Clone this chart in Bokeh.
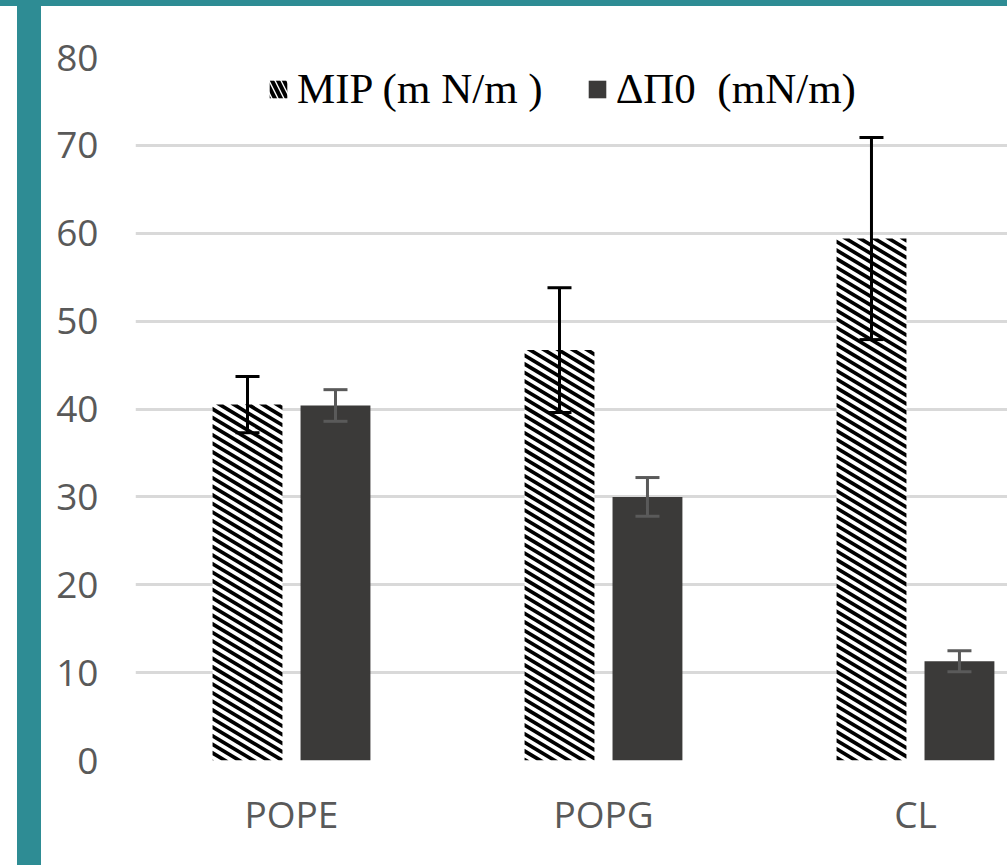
import math
from bokeh.plotting import figure
from bokeh.models import (Range1d, FixedTicker, ColumnDataSource, Whisker, TeeHead,
                          Legend, LegendItem)
from bokeh.embed import file_html
from bokeh.resources import INLINE

categories = ["POPE", "POPG", "CL"]
mip = [40.5, 46.7, 59.4]
mip_err = [3.2, 7.1, 11.5]
dpi0 = [40.4, 30.0, 11.3]
dpi0_err = [1.8, 2.2, 1.2]
y_ticks = [0, 10, 20, 30, 40, 50, 60, 70, 80]
series_labels = ["MIP (m N/m )", "\u0394\u03a00  (mN/m)"]

centers = [i + 0.5 for i in range(len(categories))]
offset = 0.141
bar_w = 0.224

W, H = 1007, 865
BL, BR, BT, BB = 135, 0, 57, 105
X_END, Y_END = 2.795, 80
XS = (W - BL - BR) / X_END          # px per x unit
YS = (H - BT - BB) / Y_END          # px per y unit

mip_x = [c - offset for c in centers]
dpi_x = [c + offset for c in centers]

src_mip = ColumnDataSource(dict(
    x=mip_x, top=mip,
    upper=[v + e for v, e in zip(mip, mip_err)],
    lower=[v - e for v, e in zip(mip, mip_err)]))
src_dpi = ColumnDataSource(dict(
    x=dpi_x, top=dpi0,
    upper=[v + e for v, e in zip(dpi0, dpi0_err)],
    lower=[v - e for v, e in zip(dpi0, dpi0_err)]))


# --- diagonal stripe fill for the MIP bars (computed from the bar geometry) ---
def _inter(a, b, lim):
    t = (lim - a[1]) / (b[1] - a[1])
    return (a[0] + t * (b[0] - a[0]), lim)


def _clip(poly, lim, keep_above):
    out = []
    for i in range(len(poly)):
        c, pr = poly[i], poly[i - 1]
        c_in = c[1] >= lim if keep_above else c[1] <= lim
        p_in = pr[1] >= lim if keep_above else pr[1] <= lim
        if c_in:
            if not p_in:
                out.append(_inter(pr, c, lim))
            out.append(c)
        elif p_in:
            out.append(_inter(pr, c, lim))
    return out


def stripe_polys(xc, top, width, slope=0.6, period=8.6):
    thick = period / 2
    u0, u1 = (xc - width / 2) * XS, (xc + width / 2) * XS
    vt = top * YS
    xs_out, ys_out = [], []
    k0 = math.floor((slope * u0 - thick) / period) - 1
    k1 = math.ceil((vt + slope * u1) / period) + 1
    for k in range(k0, k1 + 1):
        b = k * period
        poly = [(u0, -slope * u0 + b), (u1, -slope * u1 + b),
                (u1, -slope * u1 + b + thick), (u0, -slope * u0 + b + thick)]
        poly = _clip(poly, 0.0, True)
        if len(poly) >= 3:
            poly = _clip(poly, vt, False)
        if len(poly) >= 3:
            xs_out.append([q[0] / XS for q in poly])
            ys_out.append([q[1] / YS for q in poly])
    return xs_out, ys_out


stripe_xs, stripe_ys = [], []
for xc, top in zip(mip_x, mip):
    sx, sy = stripe_polys(xc, top, bar_w)
    stripe_xs += sx
    stripe_ys += sy

teal = "#2e8c94"
p = figure(width=W, height=H, output_backend="svg", toolbar_location=None,
           x_range=Range1d(0, X_END), y_range=Range1d(0, Y_END),
           min_border_left=BL, min_border_right=BR, min_border_top=BT, min_border_bottom=BB,
           background_fill_color="white", border_fill_alpha=0)
p.styles = {
    "background-color": "white",
    "background-image": f"linear-gradient({teal}, {teal}), linear-gradient({teal}, {teal})",
    "background-size": "100% 6px, 24px 100%",
    "background-position": "0 0, 17px 0",
    "background-repeat": "no-repeat",
}
p.outline_line_color = None

p.vbar(x="x", top="top", width=bar_w, source=src_mip, fill_color="white", line_color=None)
p.patches(stripe_xs, stripe_ys, fill_color="black", line_color=None)
r2 = p.vbar(x="x", top="top", width=bar_w, source=src_dpi, fill_color="#3b3a39",
            line_color=None)
# legend swatch for the hatched series (zero-height bars, only used by the legend)
r_leg = p.vbar(x="x", top=0, bottom=0, width=bar_w, source=src_mip,
               fill_color="white", line_color=None,
               hatch_pattern="\\", hatch_color="black", hatch_scale=12, hatch_weight=4)

w1 = Whisker(base="x", upper="upper", lower="lower", source=src_mip,
             line_color="black", line_width=3, level="overlay",
             upper_head=TeeHead(size=24, line_width=3, line_color="black"),
             lower_head=TeeHead(size=24, line_width=3, line_color="black"))
w2 = Whisker(base="x", upper="upper", lower="lower", source=src_dpi,
             line_color="#5a5a5a", line_width=3, level="overlay",
             upper_head=TeeHead(size=24, line_width=3, line_color="#5a5a5a"),
             lower_head=TeeHead(size=24, line_width=3, line_color="#5a5a5a"))
p.add_layout(w1)
p.add_layout(w2)

# axes
p.xaxis.ticker = FixedTicker(ticks=centers)
p.xaxis.major_label_overrides = {c: lab for c, lab in zip(centers, categories)}
p.yaxis.ticker = FixedTicker(ticks=y_ticks)
for ax in (p.xaxis[0], p.yaxis[0]):
    ax.axis_line_color = None
    ax.major_tick_line_color = None
    ax.minor_tick_line_color = None
    ax.major_label_text_font = "Open Sans"
    ax.major_label_text_font_size = "37px"
    ax.major_label_text_color = "#595959"
p.yaxis.major_label_standoff = 31
p.xaxis.major_label_standoff = 21

p.xgrid.grid_line_color = None
p.ygrid.grid_line_color = "#d9d9d9"
p.ygrid.grid_line_width = 3

legend = Legend(items=[LegendItem(label=series_labels[0], renderers=[r_leg]),
                       LegendItem(label=series_labels[1], renderers=[r2])],
                orientation="horizontal", location=(132, 647),
                padding=0, margin=0, spacing=43, label_standoff=8,
                glyph_width=22, glyph_height=22,
                label_text_font="Liberation Serif", label_text_font_size="43px",
                label_text_color="black",
                border_line_color=None, background_fill_alpha=0)
p.add_layout(legend)

open("out.html", "w").write(file_html(p, INLINE))
